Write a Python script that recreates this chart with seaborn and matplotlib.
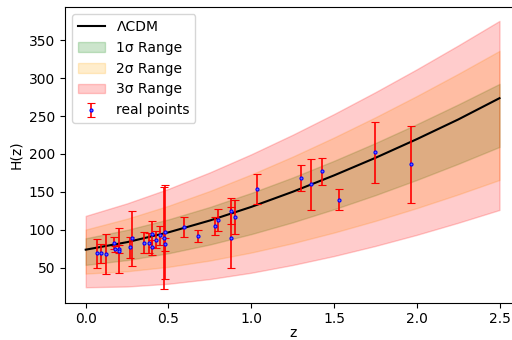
import matplotlib
matplotlib.use("Agg")
import matplotlib.pyplot as plt
import seaborn as sns
import pandas as pd

# ---- model curve and band edges ----
z_grid = [0.0, 0.25, 0.5, 0.75, 1.0, 1.25, 1.5, 1.75, 2.0, 2.25, 2.5]
h_lcdm = [74.0, 83.9, 96.8, 112.4, 130.3, 150.2, 171.8, 194.9, 219.5, 245.4, 273.5]

s1_lo = [54.0, 60.3, 69.3, 80.8, 94.5, 110.0, 127.2, 145.8, 165.8, 187.0, 209.3]
s1_hi = [89.0, 100.1, 113.9, 130.2, 148.7, 169.0, 191.0, 214.4, 239.2, 265.2, 292.3]
s2_lo = [42.5, 45.6, 51.4, 59.7, 70.2, 82.5, 96.5, 111.9, 128.7, 146.7, 165.8]
s2_hi = [100.5, 114.8, 131.8, 151.3, 173.0, 196.5, 221.7, 248.3, 276.3, 305.5, 335.8]
s3_lo = [24.5, 25.5, 29.1, 35.3, 43.6, 53.8, 65.6, 78.9, 93.5, 109.4, 126.3]
s3_hi = [118.5, 135.0, 154.1, 175.8, 199.6, 225.3, 252.6, 281.4, 311.5, 342.9, 375.3]

# ---- observed H(z) points ----
z_obs = [0.07, 0.09, 0.12, 0.17, 0.179, 0.199, 0.2, 0.27, 0.28, 0.352, 0.3802,
         0.4, 0.4004, 0.4247, 0.4497, 0.47, 0.4783, 0.48, 0.593, 0.68, 0.781,
         0.8, 0.875, 0.88, 0.9, 1.037, 1.3, 1.363, 1.43, 1.53, 1.75, 1.965]
h_obs = [69.0, 69.0, 68.6, 83.0, 75.0, 75.0, 72.9, 77.0, 88.8, 83.0, 83.0,
         95.0, 77.0, 87.1, 92.8, 89.0, 80.9, 97.0, 104.0, 92.0, 105.0,
         113.1, 125.0, 90.0, 117.0, 154.0, 168.0, 160.0, 177.0, 140.0, 202.0, 186.5]
h_err = [19.6, 12.0, 26.2, 8.0, 4.0, 5.0, 29.6, 14.0, 36.6, 14.0, 13.5,
         17.0, 10.2, 11.2, 12.9, 67.0, 9.0, 62.0, 13.0, 8.0, 12.0,
         15.1, 17.0, 40.0, 23.0, 20.0, 17.0, 33.6, 18.0, 14.0, 40.0, 50.4]

labels_order = ["ΛCDM", "1σ Range", "2σ Range", "3σ Range", "real points"]

model = pd.DataFrame({"z": z_grid, "H": h_lcdm})

fig = plt.figure(figsize=(5.12, 3.4), dpi=100)
ax = fig.add_axes([0.127, 0.110, 0.889, 0.869])

ax.fill_between(z_grid, s1_lo, s1_hi, color="green", alpha=0.2, label="1σ Range")
ax.fill_between(z_grid, s2_lo, s2_hi, color="orange", alpha=0.2, label="2σ Range")
ax.fill_between(z_grid, s3_lo, s3_hi, color="red", alpha=0.2, label="3σ Range")
sns.lineplot(data=model, x="z", y="H", color="black", linewidth=1.5, ax=ax, label="ΛCDM")
ax.errorbar(z_obs, h_obs, yerr=h_err, fmt="o", ms=2.2, color="blue",
            mfc="#6a6aff", mec="blue", mew=0.8,
            ecolor="red", elinewidth=1.2, capsize=3, label="real points")

ax.set_xlim(-0.125, 2.625)
ax.set_ylim(4.3, 393.4)
ax.set_xlabel("z", labelpad=0)
ax.set_ylabel("H(z)")

handles, labels = ax.get_legend_handles_labels()
hmap = dict(zip(labels, handles))
ax.legend([hmap[l] for l in labels_order], labels_order, loc="upper left")

fig.savefig("out.png", dpi=100)
